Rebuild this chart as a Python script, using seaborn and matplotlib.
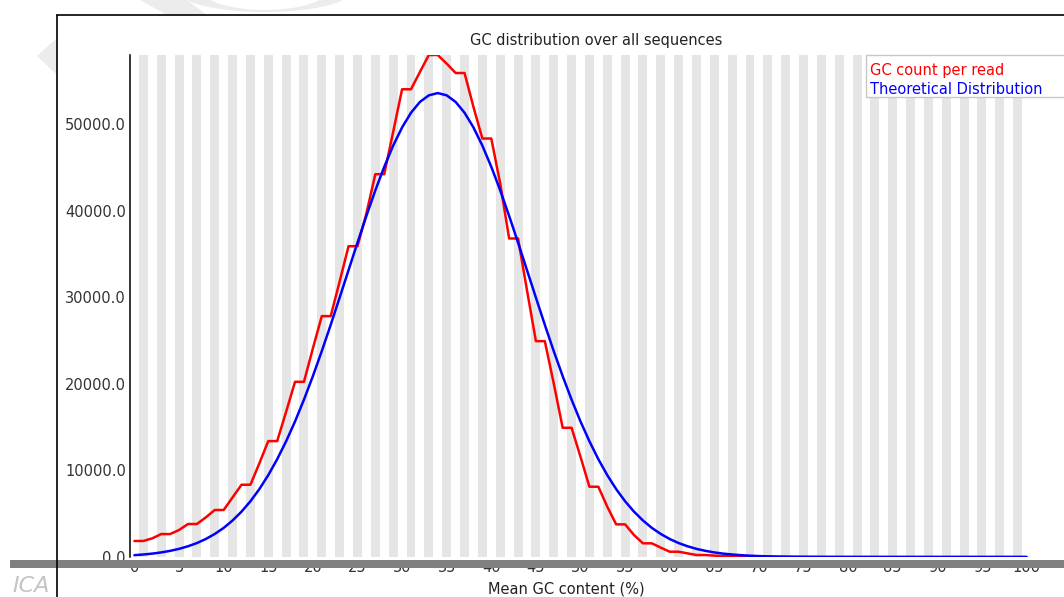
import seaborn as sns
import pandas as pd
import matplotlib.pyplot as plt
from matplotlib.patches import Rectangle, Ellipse, Polygon
from matplotlib.lines import Line2D

sns.set_theme(style='white')
plt.rcParams['font.family'] = ['DejaVu Sans']

# mean GC content (%) categories 0..100
gc_pct = list(range(101))

gc_count = [1850, 1850, 2160, 2650, 2650, 3120, 3810, 3810, 4580, 5430,
            5430, 6890, 8350, 8350, 10820, 13390, 13390, 16780, 20240, 20240,
            24100, 27830, 27830, 31830, 35910, 35910, 39690, 44230, 44230, 49110,
            54040, 54040, 56040, 58000, 58000, 57000, 55920, 55920, 52000, 48350,
            48350, 43150, 36800, 36800, 30830, 24940, 24940, 20060, 14930, 14930,
            11580, 8120, 8120, 5810, 3770, 3770, 2540, 1580, 1580, 1080,
            610, 610, 420, 230, 230, 160, 100, 100, 60, 40,
            40, 25, 15, 15, 10, 6, 6, 4, 2, 2,
            1, 1, 1, 0, 0, 0, 0, 0, 0, 0,
            0, 0, 0, 0, 0, 0, 0, 0, 0, 0, 0]

theoretical = [210, 290, 390, 530, 710, 940, 1240, 1610, 2080, 2660,
               3360, 4220, 5240, 6440, 7840, 9460, 11300, 13370, 15660, 18180,
               20900, 23790, 26830, 29970, 33150, 36320, 39410, 42360, 45080, 47530,
               49630, 51330, 52580, 53340, 53600, 53340, 52580, 51330, 49630, 47530,
               45080, 42360, 39410, 36320, 33150, 29970, 26830, 23790, 20900, 18180,
               15660, 13370, 11300, 9460, 7840, 6440, 5240, 4220, 3360, 2660,
               2080, 1610, 1240, 940, 710, 530, 390, 290, 210, 150,
               106, 74, 52, 36, 25, 17, 11, 7, 5, 3,
               2, 1, 1, 1, 0, 0, 0, 0, 0, 0,
               0, 0, 0, 0, 0, 0, 0, 0, 0, 0, 0]

series_names = ['GC count per read', 'Theoretical Distribution']
series_colors = ['#ff0000', '#0000ff']
xtick_values = list(range(0, 101, 5))
ytick_values = [0, 10000, 20000, 30000, 40000, 50000]

df = pd.concat([
    pd.DataFrame({'gc': gc_pct, 'count': gc_count, 'series': series_names[0]}),
    pd.DataFrame({'gc': gc_pct, 'count': theoretical, 'series': series_names[1]}),
])

W, H = 1064, 597
fig = plt.figure(figsize=(W / 100, H / 100), dpi=100)
fig.patch.set_facecolor('white')

# background layer in pixel coordinates (watermark bits)
bg = fig.add_axes([0, 0, 1, 1], zorder=-5)
bg.set_xlim(0, W)
bg.set_ylim(H, 0)
bg.axis('off')
wm = '#ececec'
bg.add_patch(Polygon([(37, 56), (57, 38), (57, 75)], closed=True, color=wm, lw=0))
bg.add_patch(Polygon([(140, 0), (187, 0), (207, 15), (167, 15)], closed=True, color=wm, lw=0))
bg.add_patch(Ellipse((265, -8), 170, 40, color=wm, lw=0))
bg.add_patch(Ellipse((265, -12), 130, 44, color='white', lw=0))
bg.text(12, 586, 'ICA', fontsize=16, style='italic', color='#c4c4c4', va='center', ha='left')
# the chart image itself (white, opaque)
bg.add_patch(Rectangle((57, 15), W, H, facecolor='white', edgecolor='none'))

ax = fig.add_axes([130 / W, 40 / H, 901 / W, 502 / H])
ax.set_facecolor('white')
for i in range(1, 101, 2):
    ax.axvspan(i - 0.5, i + 0.5, color='#e5e5e5', lw=0, zorder=0)

sns.lineplot(data=df, x='gc', y='count', hue='series', hue_order=series_names,
             palette=dict(zip(series_names, series_colors)), linewidth=1.8,
             legend=False, ax=ax, zorder=3)

ax.set_xlim(-0.5, 100.5)
ax.set_ylim(0, 58000)
ax.set_xticks(xtick_values)
ax.set_xticklabels([str(v) for v in xtick_values])
ax.set_yticks(ytick_values)
ax.set_yticklabels(['%.1f' % v for v in ytick_values])
ax.tick_params(axis='both', length=0, labelsize=10.5, colors='#333333')
ax.tick_params(axis='x', pad=2.5)
ax.tick_params(axis='y', pad=3)
ax.set_xlabel('')
ax.set_ylabel('')
for side in ['top', 'right', 'bottom']:
    ax.spines[side].set_visible(False)
ax.spines['left'].set_color('black')
ax.spines['left'].set_linewidth(1.1)

fig.text(596 / W, 1 - 41 / H, 'GC distribution over all sequences',
         ha='center', va='center', fontsize=10.5, color='#222222')
fig.text(566 / W, 1 - 589 / H, 'Mean GC content (%)',
         ha='center', va='center', fontsize=10.5, color='#222222')

# overlay layer in pixel coordinates
ov = fig.add_axes([0, 0, 1, 1], zorder=10)
ov.set_xlim(0, W)
ov.set_ylim(H, 0)
ov.axis('off')
ov.patch.set_alpha(0)

# legend box
ov.add_patch(Rectangle((866, 55), 215, 42, facecolor='white', edgecolor='#c8c8c8', lw=1))
ov.text(870, 70, series_names[0], color=series_colors[0], fontsize=10.5, va='center', ha='left')
ov.text(870, 89, series_names[1], color=series_colors[1], fontsize=10.5, va='center', ha='left')

# outer frame of the screenshot
ov.add_line(Line2D([57, W], [15, 15], color='black', lw=1.2))
ov.add_line(Line2D([57, 57], [15, H], color='black', lw=1.2))
# grey separator bar across the bottom
ov.add_patch(Rectangle((10, 560), W, 7.5, facecolor='#808080', edgecolor='none'))

fig.savefig('out.png', dpi=100, facecolor='white')
